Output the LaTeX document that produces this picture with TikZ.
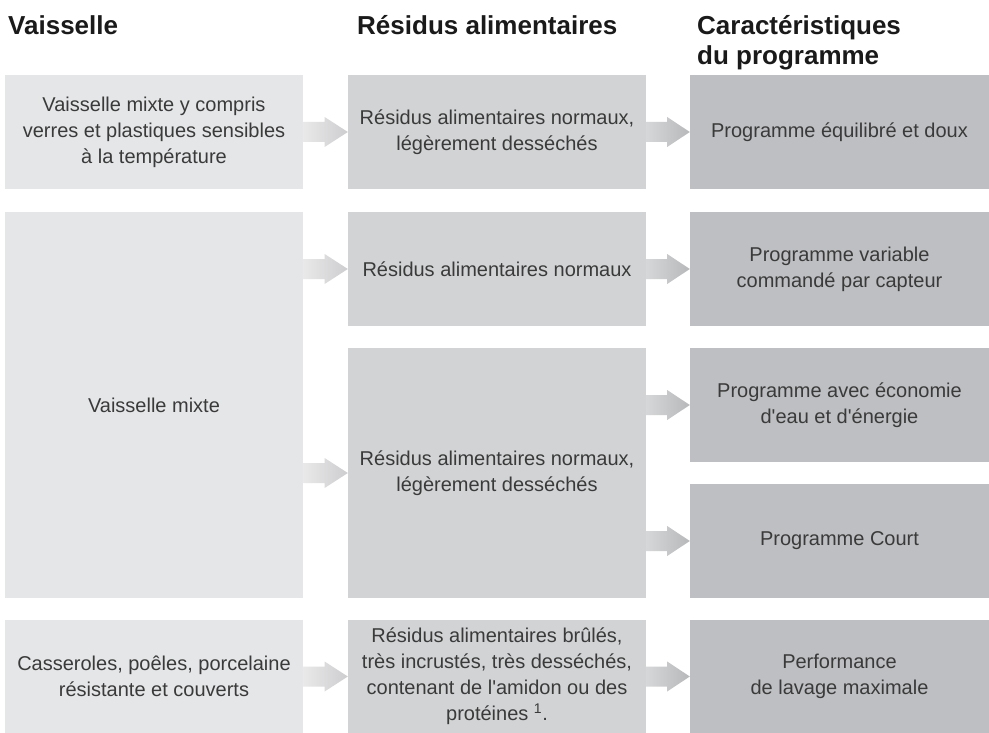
\documentclass[tikz,border=0pt]{standalone}
\usepackage{fontspec}
\setmainfont{Liberation Sans}
\usetikzlibrary{calc}
\definecolor{cA}{HTML}{E5E6E8}
\definecolor{cB}{HTML}{D2D3D5}
\definecolor{cC}{HTML}{BEBFC2}
\definecolor{txt}{HTML}{3A3A3A}
\definecolor{head}{HTML}{1A1A1A}
\definecolor{aAl}{HTML}{E9E9EA}
\definecolor{aAr}{HTML}{CDCDCF}
\definecolor{aBl}{HTML}{D6D7D9}
\definecolor{aBr}{HTML}{B7B8BA}
\newcommand\garrow[5]{%
  \shade[left color=#4,right color=#5] let \p1=(#1.east),\p2=(#2.west),\p3=(0,#3) in
  (\x1,\y3+10pt) -- ({0.52*\x1+0.48*\x2},\y3+10pt) -- ({0.52*\x1+0.48*\x2},\y3+15pt)
  -- (\x2,\y3) -- ({0.52*\x1+0.48*\x2},\y3-15pt) -- ({0.52*\x1+0.48*\x2},\y3-10pt)
  -- (\x1,\y3-10pt) -- cycle;}
\begin{document}
\begin{tikzpicture}[x=1pt,y=-1pt,
  box/.style={inner sep=0pt, minimum width=298pt, align=center, text=txt,
    font=\fontsize{20}{26}\selectfont},
  boxA/.style={box, fill=cA},
  boxB/.style={box, fill=cB},
  boxC/.style={box, fill=cC, minimum width=299pt},
  heading/.style={anchor=base west, inner sep=0pt, text=head,
    font=\fontsize{26}{30}\selectfont\bfseries}]
\useasboundingbox[fill=white] (0,0) rectangle (989,733);
% headings
\node[heading] (h1) at (8,35) {Vaisselle};
\node[heading] (h2) at (357,35) {Résidus alimentaires};
\node[heading] (h3) at (697,35) {Caractéristiques};
\node[heading] (h3b) at (697,65) {du programme};
% column 1
\node[boxA, minimum height=114pt] (A1) at (154,132) {Vaisselle mixte y compris\\verres et plastiques sensibles\\à la température};
\node[boxA, minimum height=386pt] (A2) at (154,405) {Vaisselle mixte};
\node[boxA, minimum height=113pt] (A3) at (154,676.5) {Casseroles, poêles, porcelaine\\résistante et couverts};
% column 2
\node[boxB, minimum height=114pt] (B1) at (497,132) {Résidus alimentaires normaux,\\légèrement desséchés};
\node[boxB, minimum height=114pt] (B2) at (497,269) {Résidus alimentaires normaux};
\node[boxB, minimum height=250pt] (B3) at (497,473) {Résidus alimentaires normaux,\\légèrement desséchés};
\node[boxB, minimum height=113pt] (B4) at (497,676.5) {Résidus alimentaires brûlés,\\très incrustés, très desséchés,\\contenant de l\textquotesingle amidon ou des\\protéines \textsuperscript{1}.};
% column 3
\node[boxC, minimum height=114pt] (C1) at (839.5,132) {Programme équilibré et doux};
\node[boxC, minimum height=114pt] (C2) at (839.5,269) {Programme variable\\commandé par capteur};
\node[boxC, minimum height=114pt] (C3) at (839.5,405) {Programme avec économie\\d\textquotesingle eau et d\textquotesingle énergie};
\node[boxC, minimum height=114pt] (C4) at (839.5,541) {Programme Court};
\node[boxC, minimum height=113pt] (C5) at (839.5,676.5) {Performance\\de lavage maximale};
% arrows
\garrow{A1}{B1}{132}{aAl}{aAr}
\garrow{B1}{C1}{132}{aBl}{aBr}
\garrow{A2}{B2}{269}{aAl}{aAr}
\garrow{A2}{B3}{473}{aAl}{aAr}
\garrow{B2}{C2}{269}{aBl}{aBr}
\garrow{B3}{C3}{405}{aBl}{aBr}
\garrow{B3}{C4}{541}{aBl}{aBr}
\garrow{A3}{B4}{676.5}{aAl}{aAr}
\garrow{B4}{C5}{676.5}{aBl}{aBr}
\end{tikzpicture}
\end{document}
